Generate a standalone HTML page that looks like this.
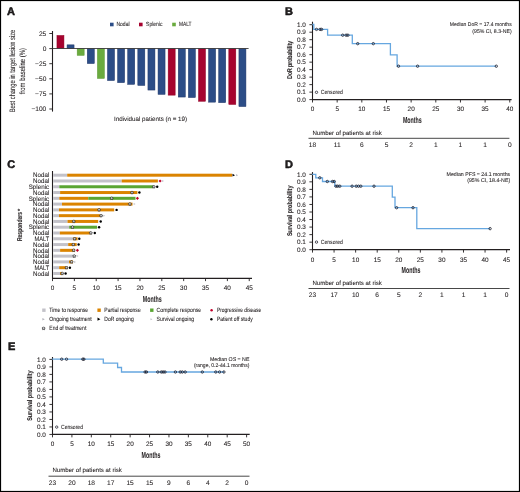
<!DOCTYPE html><html><head><meta charset="utf-8"><style>html,body{margin:0;padding:0;background:#fff;width:520px;height:492px;overflow:hidden}svg{display:block}text{text-rendering:geometricPrecision;font-family:"Liberation Sans",sans-serif;fill:#231f20;stroke:#231f20;stroke-width:0.08px}</style></head><body>
<svg width="520" height="492" viewBox="0 0 520 492">
<defs><filter id="soft" x="0" y="0" width="100%" height="100%" color-interpolation-filters="sRGB"><feGaussianBlur stdDeviation="0.3"/></filter></defs>
<rect x="0" y="0" width="520" height="492" fill="#fff"/>
<g filter="url(#soft)">
<text x="6.9" y="15.4" font-size="11" text-anchor="start" font-weight="bold" fill="#000" style="stroke:#000;stroke-width:0.45px">A</text>
<rect x="110" y="22.7" width="3.6" height="3.6" fill="#2c4d87"/>
<text x="116.4" y="26.4" font-size="6.0" text-anchor="start" textLength="13.2" lengthAdjust="spacingAndGlyphs">Nodal</text>
<rect x="139" y="22.7" width="3.6" height="3.6" fill="#a6032f"/>
<text x="146.1" y="26.4" font-size="6.0" text-anchor="start" textLength="16.4" lengthAdjust="spacingAndGlyphs">Splenic</text>
<rect x="172.2" y="22.7" width="3.6" height="3.6" fill="#6aab3e"/>
<text x="178.9" y="26.4" font-size="6.0" text-anchor="start" textLength="12.6" lengthAdjust="spacingAndGlyphs">MALT</text>
<line x1="52.5" y1="31" x2="52.5" y2="111.6" stroke="#231f20" stroke-width="1.1"/>
<line x1="49.3" y1="33.5" x2="52.5" y2="33.5" stroke="#231f20" stroke-width="0.9"/>
<text x="46.3" y="35.8" font-size="6.6" text-anchor="end">25</text>
<line x1="49.3" y1="48.6" x2="52.5" y2="48.6" stroke="#231f20" stroke-width="0.9"/>
<text x="46.3" y="50.9" font-size="6.6" text-anchor="end">0</text>
<line x1="49.3" y1="63.7" x2="52.5" y2="63.7" stroke="#231f20" stroke-width="0.9"/>
<text x="46.3" y="66" font-size="6.6" text-anchor="end">&#8722;25</text>
<line x1="49.3" y1="78.8" x2="52.5" y2="78.8" stroke="#231f20" stroke-width="0.9"/>
<text x="46.3" y="81.1" font-size="6.6" text-anchor="end">&#8722;50</text>
<line x1="49.3" y1="93.9" x2="52.5" y2="93.9" stroke="#231f20" stroke-width="0.9"/>
<text x="46.3" y="96.2" font-size="6.6" text-anchor="end">&#8722;75</text>
<line x1="49.3" y1="109" x2="52.5" y2="109" stroke="#231f20" stroke-width="0.9"/>
<text x="46.3" y="111.3" font-size="6.6" text-anchor="end">&#8722;100</text>
<rect x="56.95" y="35.45" width="7" height="12.8" fill="#a6032f" stroke="#8f0024" stroke-width="0.5"/>
<rect x="67.06" y="44.85" width="7" height="3.4" fill="#2c4d87" stroke="#1d3567" stroke-width="0.5"/>
<rect x="77.17" y="48.75" width="7" height="6.6" fill="#6aab3e" stroke="#5b9733" stroke-width="0.5"/>
<rect x="87.28" y="48.75" width="7" height="14.8" fill="#2c4d87" stroke="#1d3567" stroke-width="0.5"/>
<rect x="97.39" y="48.75" width="7" height="29.7" fill="#6aab3e" stroke="#5b9733" stroke-width="0.5"/>
<rect x="107.5" y="48.75" width="7" height="31.8" fill="#2c4d87" stroke="#1d3567" stroke-width="0.5"/>
<rect x="117.61" y="48.75" width="7" height="33.9" fill="#2c4d87" stroke="#1d3567" stroke-width="0.5"/>
<rect x="127.72" y="48.75" width="7" height="35.6" fill="#2c4d87" stroke="#1d3567" stroke-width="0.5"/>
<rect x="137.83" y="48.75" width="7" height="36.7" fill="#2c4d87" stroke="#1d3567" stroke-width="0.5"/>
<rect x="147.94" y="48.75" width="7" height="41.3" fill="#2c4d87" stroke="#1d3567" stroke-width="0.5"/>
<rect x="158.05" y="48.75" width="7" height="45.6" fill="#2c4d87" stroke="#1d3567" stroke-width="0.5"/>
<rect x="168.16" y="48.75" width="7" height="46.4" fill="#a6032f" stroke="#8f0024" stroke-width="0.5"/>
<rect x="178.27" y="48.75" width="7" height="48.3" fill="#2c4d87" stroke="#1d3567" stroke-width="0.5"/>
<rect x="188.38" y="48.75" width="7" height="48.8" fill="#2c4d87" stroke="#1d3567" stroke-width="0.5"/>
<rect x="198.49" y="48.75" width="7" height="52.5" fill="#a6032f" stroke="#8f0024" stroke-width="0.5"/>
<rect x="208.6" y="48.75" width="7" height="53.4" fill="#2c4d87" stroke="#1d3567" stroke-width="0.5"/>
<rect x="218.71" y="48.75" width="7" height="53.9" fill="#2c4d87" stroke="#1d3567" stroke-width="0.5"/>
<rect x="228.82" y="48.75" width="7" height="55.7" fill="#a6032f" stroke="#8f0024" stroke-width="0.5"/>
<rect x="238.93" y="48.75" width="7" height="57.8" fill="#2c4d87" stroke="#1d3567" stroke-width="0.5"/>
<line x1="52.5" y1="48.5" x2="248.6" y2="48.5" stroke="#3a3a3a" stroke-width="0.9"/>
<text x="150.6" y="121" font-size="6.3" text-anchor="middle" textLength="73" lengthAdjust="spacingAndGlyphs">Individual patients (n = 19)</text>
<text transform="translate(14.7,71) rotate(-90)" x="0" y="0" font-size="7.8" text-anchor="middle" textLength="82.5" lengthAdjust="spacingAndGlyphs">Best change in target lesion size</text>
<text transform="translate(25.4,71.2) rotate(-90)" x="0" y="0" font-size="7.8" text-anchor="middle" textLength="46.2" lengthAdjust="spacingAndGlyphs">from baseline (%)</text>
<text x="285" y="15.4" font-size="11" text-anchor="start" font-weight="bold" fill="#000" style="stroke:#000;stroke-width:0.45px">B</text>
<line x1="312.5" y1="21.7" x2="312.5" y2="100.2" stroke="#231f20" stroke-width="1.1"/>
<line x1="309.4" y1="24.7" x2="312.5" y2="24.7" stroke="#231f20" stroke-width="0.9"/>
<text x="305.9" y="27" font-size="6.4" text-anchor="end">1.0</text>
<line x1="309.4" y1="32.19" x2="312.5" y2="32.19" stroke="#231f20" stroke-width="0.9"/>
<text x="305.9" y="34.49" font-size="6.4" text-anchor="end">0.9</text>
<line x1="309.4" y1="39.68" x2="312.5" y2="39.68" stroke="#231f20" stroke-width="0.9"/>
<text x="305.9" y="41.98" font-size="6.4" text-anchor="end">0.8</text>
<line x1="309.4" y1="47.17" x2="312.5" y2="47.17" stroke="#231f20" stroke-width="0.9"/>
<text x="305.9" y="49.47" font-size="6.4" text-anchor="end">0.7</text>
<line x1="309.4" y1="54.66" x2="312.5" y2="54.66" stroke="#231f20" stroke-width="0.9"/>
<text x="305.9" y="56.96" font-size="6.4" text-anchor="end">0.6</text>
<line x1="309.4" y1="62.15" x2="312.5" y2="62.15" stroke="#231f20" stroke-width="0.9"/>
<text x="305.9" y="64.45" font-size="6.4" text-anchor="end">0.5</text>
<line x1="309.4" y1="69.64" x2="312.5" y2="69.64" stroke="#231f20" stroke-width="0.9"/>
<text x="305.9" y="71.94" font-size="6.4" text-anchor="end">0.4</text>
<line x1="309.4" y1="77.13" x2="312.5" y2="77.13" stroke="#231f20" stroke-width="0.9"/>
<text x="305.9" y="79.43" font-size="6.4" text-anchor="end">0.3</text>
<line x1="309.4" y1="84.62" x2="312.5" y2="84.62" stroke="#231f20" stroke-width="0.9"/>
<text x="305.9" y="86.92" font-size="6.4" text-anchor="end">0.2</text>
<line x1="309.4" y1="92.11" x2="312.5" y2="92.11" stroke="#231f20" stroke-width="0.9"/>
<text x="305.9" y="94.41" font-size="6.4" text-anchor="end">0.1</text>
<line x1="309.4" y1="99.6" x2="312.5" y2="99.6" stroke="#231f20" stroke-width="0.9"/>
<text x="305.9" y="101.9" font-size="6.4" text-anchor="end">0.0</text>
<line x1="312" y1="99.6" x2="511.6" y2="99.6" stroke="#231f20" stroke-width="1.3"/>
<line x1="312.5" y1="99.6" x2="312.5" y2="102.5" stroke="#231f20" stroke-width="0.9"/>
<text x="312.5" y="111.4" font-size="6.4" text-anchor="middle">0</text>
<line x1="337.16" y1="99.6" x2="337.16" y2="102.5" stroke="#231f20" stroke-width="0.9"/>
<text x="337.16" y="111.4" font-size="6.4" text-anchor="middle">5</text>
<line x1="361.82" y1="99.6" x2="361.82" y2="102.5" stroke="#231f20" stroke-width="0.9"/>
<text x="361.82" y="111.4" font-size="6.4" text-anchor="middle">10</text>
<line x1="386.48" y1="99.6" x2="386.48" y2="102.5" stroke="#231f20" stroke-width="0.9"/>
<text x="386.48" y="111.4" font-size="6.4" text-anchor="middle">15</text>
<line x1="411.14" y1="99.6" x2="411.14" y2="102.5" stroke="#231f20" stroke-width="0.9"/>
<text x="411.14" y="111.4" font-size="6.4" text-anchor="middle">20</text>
<line x1="435.8" y1="99.6" x2="435.8" y2="102.5" stroke="#231f20" stroke-width="0.9"/>
<text x="435.8" y="111.4" font-size="6.4" text-anchor="middle">25</text>
<line x1="460.46" y1="99.6" x2="460.46" y2="102.5" stroke="#231f20" stroke-width="0.9"/>
<text x="460.46" y="111.4" font-size="6.4" text-anchor="middle">30</text>
<line x1="485.12" y1="99.6" x2="485.12" y2="102.5" stroke="#231f20" stroke-width="0.9"/>
<text x="485.12" y="111.4" font-size="6.4" text-anchor="middle">35</text>
<line x1="509.78" y1="99.6" x2="509.78" y2="102.5" stroke="#231f20" stroke-width="0.9"/>
<text x="509.78" y="111.4" font-size="6.4" text-anchor="middle">40</text>
<text transform="translate(291.6,59.8) rotate(-90)" x="0" y="0" font-size="6.9" text-anchor="middle" font-weight="bold" style="stroke-width:0.12px" textLength="38" lengthAdjust="spacingAndGlyphs">DoR probability</text>
<text x="412.3" y="123.2" font-size="8.7" text-anchor="middle" font-weight="bold" textLength="18.8" lengthAdjust="spacingAndGlyphs" style="stroke-width:0.05px">Months</text>
<text x="312.4" y="134.5" font-size="6.1" text-anchor="start" textLength="69.5" lengthAdjust="spacingAndGlyphs">Number of patients at risk</text>
<line x1="308.5" y1="138.3" x2="509.4" y2="138.3" stroke="#333" stroke-width="0.9"/>
<text x="312.5" y="147.3" font-size="6.6" text-anchor="middle">18</text>
<text x="337.16" y="147.3" font-size="6.6" text-anchor="middle">11</text>
<text x="361.82" y="147.3" font-size="6.6" text-anchor="middle">6</text>
<text x="386.48" y="147.3" font-size="6.6" text-anchor="middle">5</text>
<text x="411.14" y="147.3" font-size="6.6" text-anchor="middle">2</text>
<text x="435.8" y="147.3" font-size="6.6" text-anchor="middle">1</text>
<text x="460.46" y="147.3" font-size="6.6" text-anchor="middle">1</text>
<text x="485.12" y="147.3" font-size="6.6" text-anchor="middle">1</text>
<text x="509.78" y="147.3" font-size="6.6" text-anchor="middle">0</text>
<text x="511.7" y="26.3" font-size="5.5" text-anchor="end" textLength="62" lengthAdjust="spacingAndGlyphs">Median DoR = 17.4 months</text>
<text x="511.7" y="32.6" font-size="5.5" text-anchor="end" textLength="39.4" lengthAdjust="spacingAndGlyphs">(95% CI, 8.3-NE)</text>
<circle cx="316.5" cy="92.3" r="1.2" fill="none" stroke="#1c1c28" stroke-width="0.75"/>
<text x="320.8" y="94.4" font-size="6.0" text-anchor="start" textLength="22" lengthAdjust="spacingAndGlyphs">Censored</text>
<path d="M312.3 24.5H313.8V29.4H327.6V35.2H352.3V43.65H390.4V54.8H397.1V66.2H496.3" fill="none" stroke="#66a7e0" stroke-width="1.3" stroke-linejoin="miter"/>
<circle cx="316.5" cy="29.4" r="1.2" fill="none" stroke="#1c1c28" stroke-width="0.8"/>
<circle cx="320.1" cy="29.4" r="1.2" fill="none" stroke="#1c1c28" stroke-width="0.8"/>
<circle cx="321.6" cy="29.4" r="1.2" fill="none" stroke="#1c1c28" stroke-width="0.8"/>
<circle cx="342.7" cy="35.2" r="1.2" fill="none" stroke="#1c1c28" stroke-width="0.8"/>
<circle cx="346.1" cy="35.2" r="1.2" fill="none" stroke="#1c1c28" stroke-width="0.8"/>
<circle cx="347.9" cy="35.2" r="1.2" fill="none" stroke="#1c1c28" stroke-width="0.8"/>
<circle cx="357.7" cy="43.65" r="1.2" fill="none" stroke="#1c1c28" stroke-width="0.8"/>
<circle cx="373.3" cy="43.65" r="1.2" fill="none" stroke="#1c1c28" stroke-width="0.8"/>
<circle cx="398.5" cy="66.2" r="1.2" fill="none" stroke="#1c1c28" stroke-width="0.8"/>
<circle cx="417.6" cy="66.2" r="1.2" fill="none" stroke="#1c1c28" stroke-width="0.8"/>
<circle cx="496.3" cy="66.2" r="1.2" fill="none" stroke="#1c1c28" stroke-width="0.8"/>
<text x="7.3" y="167.7" font-size="11" text-anchor="start" font-weight="bold" fill="#000" style="stroke:#000;stroke-width:0.45px">C</text>
<line x1="52.5" y1="171" x2="52.5" y2="278.9" stroke="#231f20" stroke-width="1.1"/>
<line x1="52" y1="278.3" x2="252" y2="278.3" stroke="#231f20" stroke-width="1.3"/>
<line x1="52.5" y1="278.1" x2="52.5" y2="281.1" stroke="#231f20" stroke-width="0.9"/>
<text x="52.5" y="290.2" font-size="6.4" text-anchor="middle">0</text>
<line x1="74.36" y1="278.1" x2="74.36" y2="281.1" stroke="#231f20" stroke-width="0.9"/>
<text x="74.36" y="290.2" font-size="6.4" text-anchor="middle">5</text>
<line x1="96.22" y1="278.1" x2="96.22" y2="281.1" stroke="#231f20" stroke-width="0.9"/>
<text x="96.22" y="290.2" font-size="6.4" text-anchor="middle">10</text>
<line x1="118.08" y1="278.1" x2="118.08" y2="281.1" stroke="#231f20" stroke-width="0.9"/>
<text x="118.08" y="290.2" font-size="6.4" text-anchor="middle">15</text>
<line x1="139.94" y1="278.1" x2="139.94" y2="281.1" stroke="#231f20" stroke-width="0.9"/>
<text x="139.94" y="290.2" font-size="6.4" text-anchor="middle">20</text>
<line x1="161.8" y1="278.1" x2="161.8" y2="281.1" stroke="#231f20" stroke-width="0.9"/>
<text x="161.8" y="290.2" font-size="6.4" text-anchor="middle">25</text>
<line x1="183.66" y1="278.1" x2="183.66" y2="281.1" stroke="#231f20" stroke-width="0.9"/>
<text x="183.66" y="290.2" font-size="6.4" text-anchor="middle">30</text>
<line x1="205.52" y1="278.1" x2="205.52" y2="281.1" stroke="#231f20" stroke-width="0.9"/>
<text x="205.52" y="290.2" font-size="6.4" text-anchor="middle">35</text>
<line x1="227.38" y1="278.1" x2="227.38" y2="281.1" stroke="#231f20" stroke-width="0.9"/>
<text x="227.38" y="290.2" font-size="6.4" text-anchor="middle">40</text>
<line x1="249.24" y1="278.1" x2="249.24" y2="281.1" stroke="#231f20" stroke-width="0.9"/>
<text x="249.24" y="290.2" font-size="6.4" text-anchor="middle">45</text>
<text x="152.2" y="302.1" font-size="8.7" text-anchor="middle" font-weight="bold" textLength="18.8" lengthAdjust="spacingAndGlyphs" style="stroke-width:0.05px">Months</text>
<text transform="translate(21.9,226.5) rotate(-90)" x="0" y="0" font-size="7.0" text-anchor="middle" font-weight="bold" style="stroke-width:0.12px" textLength="29.2" lengthAdjust="spacingAndGlyphs">Responders</text>
<text x="0" y="0" font-size="6.4" text-anchor="start" font-weight="bold" transform="translate(21.6,211.2) rotate(-90)" text-anchor="middle">*</text>
<text x="49.2" y="177.4" font-size="6.4" text-anchor="end" textLength="16.1" lengthAdjust="spacingAndGlyphs">Nodal</text>
<rect x="53.2" y="173.7" width="14" height="3" fill="#c3c2c9"/>
<rect x="67.2" y="173.7" width="164.9" height="3" fill="#db8400"/>
<path d="M232.5 173.8L235 175.2L232.5 176.6Z" fill="#000"/>
<path d="M236.1 174.1L238.1 175.2L236.1 176.3Z" fill="#b8b8c0"/>
<text x="49.2" y="183.18" font-size="6.4" text-anchor="end" textLength="16.1" lengthAdjust="spacingAndGlyphs">Nodal</text>
<rect x="53.2" y="179.48" width="68.5" height="3" fill="#c3c2c9"/>
<rect x="121.7" y="179.48" width="36.2" height="3" fill="#db8400"/>
<path d="M160.1 179.38L161.7 180.98L160.1 182.58L158.5 180.98Z" fill="#c0002a"/>
<path d="M162.1 179.98L164 180.98L162.1 181.98Z" fill="#bcbcc4"/>
<text x="49.2" y="188.96" font-size="6.4" text-anchor="end" textLength="20.5" lengthAdjust="spacingAndGlyphs">Splenic</text>
<rect x="53.2" y="185.26" width="6.1" height="3" fill="#c3c2c9"/>
<rect x="59.3" y="185.26" width="93.7" height="3" fill="#5aa532"/>
<path d="M153.8 185.16L154.45 185.87L155.32 186.27L154.85 187.1L154.74 188.05L153.8 187.86L152.86 188.05L152.75 187.1L152.28 186.27L153.15 185.87Z" fill="#c8c8cc" stroke="#2a2a2a" stroke-width="0.7" stroke-linejoin="round"/>
<circle cx="157.2" cy="186.76" r="1.2" fill="#000"/>
<text x="49.2" y="194.74" font-size="6.4" text-anchor="end" textLength="16.1" lengthAdjust="spacingAndGlyphs">Nodal</text>
<rect x="53.2" y="191.04" width="6.9" height="3" fill="#c3c2c9"/>
<rect x="60.1" y="191.04" width="77.3" height="3" fill="#db8400"/>
<path d="M132 190.94L132.65 191.65L133.52 192.05L133.05 192.88L132.94 193.83L132 193.64L131.06 193.83L130.95 192.88L130.48 192.05L131.35 191.65Z" fill="#c8c8cc" stroke="#2a2a2a" stroke-width="0.7" stroke-linejoin="round"/>
<circle cx="139.4" cy="192.54" r="1.2" fill="#000"/>
<text x="49.2" y="200.52" font-size="6.4" text-anchor="end" textLength="20.5" lengthAdjust="spacingAndGlyphs">Splenic</text>
<rect x="53.2" y="196.82" width="6.1" height="3" fill="#c3c2c9"/>
<rect x="59.3" y="196.82" width="29" height="3" fill="#db8400"/>
<rect x="88.3" y="196.82" width="47.2" height="3" fill="#5aa532"/>
<path d="M111.7 196.72L112.35 197.43L113.22 197.83L112.75 198.66L112.64 199.61L111.7 199.42L110.76 199.61L110.65 198.66L110.18 197.83L111.05 197.43Z" fill="#c8c8cc" stroke="#2a2a2a" stroke-width="0.7" stroke-linejoin="round"/>
<path d="M137.4 196.72L139 198.32L137.4 199.92L135.8 198.32Z" fill="#c0002a"/>
<text x="49.2" y="206.3" font-size="6.4" text-anchor="end" textLength="16.1" lengthAdjust="spacingAndGlyphs">Nodal</text>
<rect x="53.2" y="202.6" width="8.8" height="3" fill="#c3c2c9"/>
<rect x="62" y="202.6" width="70.5" height="3" fill="#db8400"/>
<path d="M129.9 202.5L130.55 203.21L131.42 203.61L130.95 204.44L130.84 205.39L129.9 205.2L128.96 205.39L128.85 204.44L128.38 203.61L129.25 203.21Z" fill="#c8c8cc" stroke="#2a2a2a" stroke-width="0.7" stroke-linejoin="round"/>
<path d="M133.7 203.1L135.6 204.1L133.7 205.1Z" fill="#bcbcc4"/>
<text x="49.2" y="212.08" font-size="6.4" text-anchor="end" textLength="16.1" lengthAdjust="spacingAndGlyphs">Nodal</text>
<rect x="53.2" y="208.38" width="5.8" height="3" fill="#c3c2c9"/>
<rect x="59" y="208.38" width="55.2" height="3" fill="#db8400"/>
<path d="M99.1 208.28L99.75 208.99L100.62 209.39L100.15 210.22L100.04 211.17L99.1 210.98L98.16 211.17L98.05 210.22L97.58 209.39L98.45 208.99Z" fill="#c8c8cc" stroke="#2a2a2a" stroke-width="0.7" stroke-linejoin="round"/>
<circle cx="116.6" cy="209.88" r="1.2" fill="#000"/>
<text x="49.2" y="217.86" font-size="6.4" text-anchor="end" textLength="16.1" lengthAdjust="spacingAndGlyphs">Nodal</text>
<rect x="53.2" y="214.16" width="5.8" height="3" fill="#c3c2c9"/>
<rect x="59" y="214.16" width="41.5" height="3" fill="#db8400"/>
<path d="M101.1 214.06L101.75 214.77L102.62 215.17L102.15 216L102.04 216.95L101.1 216.76L100.16 216.95L100.05 216L99.58 215.17L100.45 214.77Z" fill="#c8c8cc" stroke="#2a2a2a" stroke-width="0.7" stroke-linejoin="round"/>
<path d="M103.3 214.66L105.2 215.66L103.3 216.66Z" fill="#bcbcc4"/>
<text x="49.2" y="223.64" font-size="6.4" text-anchor="end" textLength="16.1" lengthAdjust="spacingAndGlyphs">Nodal</text>
<rect x="53.2" y="219.94" width="14.3" height="3" fill="#c3c2c9"/>
<rect x="67.5" y="219.94" width="30.7" height="3" fill="#db8400"/>
<path d="M73.8 219.84L74.45 220.55L75.32 220.95L74.85 221.78L74.74 222.73L73.8 222.54L72.86 222.73L72.75 221.78L72.28 220.95L73.15 220.55Z" fill="#c8c8cc" stroke="#2a2a2a" stroke-width="0.7" stroke-linejoin="round"/>
<circle cx="100.7" cy="221.44" r="1.2" fill="#000"/>
<text x="49.2" y="229.42" font-size="6.4" text-anchor="end" textLength="20.5" lengthAdjust="spacingAndGlyphs">Splenic</text>
<rect x="53.2" y="225.72" width="16" height="3" fill="#c3c2c9"/>
<rect x="69.2" y="225.72" width="27.9" height="3" fill="#5aa532"/>
<path d="M72.5 225.62L73.15 226.33L74.02 226.73L73.55 227.56L73.44 228.51L72.5 228.32L71.56 228.51L71.45 227.56L70.98 226.73L71.85 226.33Z" fill="#c8c8cc" stroke="#2a2a2a" stroke-width="0.7" stroke-linejoin="round"/>
<circle cx="99.1" cy="227.22" r="1.2" fill="#000"/>
<text x="49.2" y="235.2" font-size="6.4" text-anchor="end" textLength="16.1" lengthAdjust="spacingAndGlyphs">Nodal</text>
<rect x="53.2" y="231.5" width="6.6" height="3" fill="#c3c2c9"/>
<rect x="59.8" y="231.5" width="30.6" height="3" fill="#db8400"/>
<path d="M90.8 231.4L91.45 232.11L92.32 232.51L91.85 233.34L91.74 234.29L90.8 234.1L89.86 234.29L89.75 233.34L89.28 232.51L90.15 232.11Z" fill="#c8c8cc" stroke="#2a2a2a" stroke-width="0.7" stroke-linejoin="round"/>
<circle cx="94.8" cy="233" r="1.2" fill="#000"/>
<text x="49.2" y="240.98" font-size="6.4" text-anchor="end" textLength="14.6" lengthAdjust="spacingAndGlyphs">MALT</text>
<rect x="53.2" y="237.28" width="20" height="3" fill="#c3c2c9"/>
<rect x="73.2" y="237.28" width="4.4" height="3" fill="#db8400"/>
<path d="M74.6 237.18L75.25 237.89L76.12 238.29L75.65 239.12L75.54 240.07L74.6 239.88L73.66 240.07L73.55 239.12L73.08 238.29L73.95 237.89Z" fill="#c8c8cc" stroke="#2a2a2a" stroke-width="0.7" stroke-linejoin="round"/>
<circle cx="79.3" cy="238.78" r="1.2" fill="#000"/>
<text x="49.2" y="246.76" font-size="6.4" text-anchor="end" textLength="16.1" lengthAdjust="spacingAndGlyphs">Nodal</text>
<rect x="53.2" y="243.06" width="15" height="3" fill="#c3c2c9"/>
<rect x="68.2" y="243.06" width="8.5" height="3" fill="#db8400"/>
<path d="M73.3 242.96L73.95 243.67L74.82 244.07L74.35 244.9L74.24 245.85L73.3 245.66L72.36 245.85L72.25 244.9L71.78 244.07L72.65 243.67Z" fill="#c8c8cc" stroke="#2a2a2a" stroke-width="0.7" stroke-linejoin="round"/>
<circle cx="78.6" cy="244.56" r="1.2" fill="#000"/>
<text x="49.2" y="252.54" font-size="6.4" text-anchor="end" textLength="16.1" lengthAdjust="spacingAndGlyphs">Nodal</text>
<rect x="53.2" y="248.84" width="6.9" height="3" fill="#c3c2c9"/>
<rect x="60.1" y="248.84" width="14.9" height="3" fill="#db8400"/>
<path d="M73.7 248.74L74.35 249.45L75.22 249.85L74.75 250.68L74.64 251.63L73.7 251.44L72.76 251.63L72.65 250.68L72.18 249.85L73.05 249.45Z" fill="#c8c8cc" stroke="#2a2a2a" stroke-width="0.7" stroke-linejoin="round"/>
<path d="M77.4 248.74L79 250.34L77.4 251.94L75.8 250.34Z" fill="#c0002a"/>
<text x="49.2" y="258.32" font-size="6.4" text-anchor="end" textLength="16.1" lengthAdjust="spacingAndGlyphs">Nodal</text>
<rect x="53.2" y="254.62" width="20.5" height="3" fill="#c3c2c9"/>
<path d="M74.3 254.52L74.95 255.23L75.82 255.63L75.35 256.46L75.24 257.41L74.3 257.22L73.36 257.41L73.25 256.46L72.78 255.63L73.65 255.23Z" fill="#c8c8cc" stroke="#2a2a2a" stroke-width="0.7" stroke-linejoin="round"/>
<path d="M76.7 255.12L78.6 256.12L76.7 257.12Z" fill="#bcbcc4"/>
<text x="49.2" y="264.1" font-size="6.4" text-anchor="end" textLength="16.1" lengthAdjust="spacingAndGlyphs">Nodal</text>
<rect x="53.2" y="260.4" width="15.8" height="3" fill="#c3c2c9"/>
<rect x="69" y="260.4" width="3.9" height="3" fill="#db8400"/>
<path d="M71.6 260.3L72.25 261.01L73.12 261.41L72.65 262.24L72.54 263.19L71.6 263L70.66 263.19L70.55 262.24L70.08 261.41L70.95 261.01Z" fill="#c8c8cc" stroke="#2a2a2a" stroke-width="0.7" stroke-linejoin="round"/>
<path d="M74.1 260.9L76 261.9L74.1 262.9Z" fill="#bcbcc4"/>
<text x="49.2" y="269.88" font-size="6.4" text-anchor="end" textLength="14.6" lengthAdjust="spacingAndGlyphs">MALT</text>
<rect x="53.2" y="266.18" width="6" height="3" fill="#c3c2c9"/>
<rect x="59.2" y="266.18" width="8.2" height="3" fill="#db8400"/>
<path d="M66.5 266.08L67.15 266.79L68.02 267.19L67.55 268.02L67.44 268.97L66.5 268.78L65.56 268.97L65.45 268.02L64.98 267.19L65.85 266.79Z" fill="#c8c8cc" stroke="#2a2a2a" stroke-width="0.7" stroke-linejoin="round"/>
<circle cx="69.9" cy="267.68" r="1.2" fill="#000"/>
<text x="49.2" y="275.66" font-size="6.4" text-anchor="end" textLength="16.1" lengthAdjust="spacingAndGlyphs">Nodal</text>
<rect x="53.2" y="271.96" width="6.9" height="3" fill="#c3c2c9"/>
<rect x="60.1" y="271.96" width="2.6" height="3" fill="#db8400"/>
<path d="M62.2 271.86L62.85 272.57L63.72 272.97L63.25 273.8L63.14 274.75L62.2 274.56L61.26 274.75L61.15 273.8L60.68 272.97L61.55 272.57Z" fill="#c8c8cc" stroke="#2a2a2a" stroke-width="0.7" stroke-linejoin="round"/>
<circle cx="65.6" cy="273.46" r="1.2" fill="#000"/>
<rect x="42.2" y="308.5" width="3.4" height="3.4" fill="#c3c2c9"/>
<text x="49.3" y="312.3" font-size="6.2" text-anchor="start" textLength="38.8" lengthAdjust="spacingAndGlyphs">Time to response</text>
<rect x="97.4" y="308.5" width="3.4" height="3.4" fill="#db8400"/>
<text x="104.3" y="312.3" font-size="6.2" text-anchor="start" textLength="36.4" lengthAdjust="spacingAndGlyphs">Partial response</text>
<rect x="150.1" y="308.5" width="3.4" height="3.4" fill="#5aa532"/>
<text x="156.6" y="312.3" font-size="6.2" text-anchor="start" textLength="44.6" lengthAdjust="spacingAndGlyphs">Complete response</text>
<circle cx="211.6" cy="310.2" r="1.2" fill="#c0002a"/>
<text x="216.9" y="312.3" font-size="6.2" text-anchor="start" textLength="44.4" lengthAdjust="spacingAndGlyphs">Progressive disease</text>
<path d="M42.4 317.9L44.8 319.2L42.4 320.5Z" fill="#b4b4bc"/>
<text x="49.3" y="321.3" font-size="6.2" text-anchor="start" textLength="42.5" lengthAdjust="spacingAndGlyphs">Ongoing treatment</text>
<path d="M97.5 317.6L100.4 319.2L97.5 320.8Z" fill="#000"/>
<text x="104.3" y="321.3" font-size="6.2" text-anchor="start" textLength="29.4" lengthAdjust="spacingAndGlyphs">DoR ongoing</text>
<path d="M150.5 318.2L152.4 319.2L150.5 320.2Z" fill="#bcbcc4"/>
<text x="156.6" y="321.3" font-size="6.2" text-anchor="start" textLength="37.5" lengthAdjust="spacingAndGlyphs">Survival ongoing</text>
<circle cx="211.4" cy="319.2" r="1.2" fill="#000"/>
<text x="216.9" y="321.3" font-size="6.2" text-anchor="start" textLength="35.8" lengthAdjust="spacingAndGlyphs">Patient off study</text>
<path d="M43.6 326.8L44.25 327.51L45.12 327.91L44.65 328.74L44.54 329.69L43.6 329.5L42.66 329.69L42.55 328.74L42.08 327.91L42.95 327.51Z" fill="#c8c8cc" stroke="#2a2a2a" stroke-width="0.7" stroke-linejoin="round"/>
<text x="49.3" y="330.3" font-size="6.2" text-anchor="start" textLength="37" lengthAdjust="spacingAndGlyphs">End of treatment</text>
<text x="285" y="167.7" font-size="11" text-anchor="start" font-weight="bold" fill="#000" style="stroke:#000;stroke-width:0.45px">D</text>
<line x1="312.5" y1="172.1" x2="312.5" y2="250.3" stroke="#231f20" stroke-width="1.1"/>
<line x1="309.4" y1="174.3" x2="312.5" y2="174.3" stroke="#231f20" stroke-width="0.9"/>
<text x="305.9" y="176.6" font-size="6.4" text-anchor="end">1.0</text>
<line x1="309.4" y1="181.84" x2="312.5" y2="181.84" stroke="#231f20" stroke-width="0.9"/>
<text x="305.9" y="184.14" font-size="6.4" text-anchor="end">0.9</text>
<line x1="309.4" y1="189.38" x2="312.5" y2="189.38" stroke="#231f20" stroke-width="0.9"/>
<text x="305.9" y="191.68" font-size="6.4" text-anchor="end">0.8</text>
<line x1="309.4" y1="196.92" x2="312.5" y2="196.92" stroke="#231f20" stroke-width="0.9"/>
<text x="305.9" y="199.22" font-size="6.4" text-anchor="end">0.7</text>
<line x1="309.4" y1="204.46" x2="312.5" y2="204.46" stroke="#231f20" stroke-width="0.9"/>
<text x="305.9" y="206.76" font-size="6.4" text-anchor="end">0.6</text>
<line x1="309.4" y1="212" x2="312.5" y2="212" stroke="#231f20" stroke-width="0.9"/>
<text x="305.9" y="214.3" font-size="6.4" text-anchor="end">0.5</text>
<line x1="309.4" y1="219.54" x2="312.5" y2="219.54" stroke="#231f20" stroke-width="0.9"/>
<text x="305.9" y="221.84" font-size="6.4" text-anchor="end">0.4</text>
<line x1="309.4" y1="227.08" x2="312.5" y2="227.08" stroke="#231f20" stroke-width="0.9"/>
<text x="305.9" y="229.38" font-size="6.4" text-anchor="end">0.3</text>
<line x1="309.4" y1="234.62" x2="312.5" y2="234.62" stroke="#231f20" stroke-width="0.9"/>
<text x="305.9" y="236.92" font-size="6.4" text-anchor="end">0.2</text>
<line x1="309.4" y1="242.16" x2="312.5" y2="242.16" stroke="#231f20" stroke-width="0.9"/>
<text x="305.9" y="244.46" font-size="6.4" text-anchor="end">0.1</text>
<line x1="309.4" y1="249.7" x2="312.5" y2="249.7" stroke="#231f20" stroke-width="0.9"/>
<text x="305.9" y="252" font-size="6.4" text-anchor="end">0.0</text>
<line x1="312" y1="249.7" x2="510" y2="249.7" stroke="#231f20" stroke-width="1.3"/>
<line x1="312.5" y1="249.7" x2="312.5" y2="252.6" stroke="#231f20" stroke-width="0.9"/>
<text x="312.5" y="261.5" font-size="6.4" text-anchor="middle">0</text>
<line x1="334.07" y1="249.7" x2="334.07" y2="252.6" stroke="#231f20" stroke-width="0.9"/>
<text x="334.07" y="261.5" font-size="6.4" text-anchor="middle">5</text>
<line x1="355.64" y1="249.7" x2="355.64" y2="252.6" stroke="#231f20" stroke-width="0.9"/>
<text x="355.64" y="261.5" font-size="6.4" text-anchor="middle">10</text>
<line x1="377.21" y1="249.7" x2="377.21" y2="252.6" stroke="#231f20" stroke-width="0.9"/>
<text x="377.21" y="261.5" font-size="6.4" text-anchor="middle">15</text>
<line x1="398.78" y1="249.7" x2="398.78" y2="252.6" stroke="#231f20" stroke-width="0.9"/>
<text x="398.78" y="261.5" font-size="6.4" text-anchor="middle">20</text>
<line x1="420.35" y1="249.7" x2="420.35" y2="252.6" stroke="#231f20" stroke-width="0.9"/>
<text x="420.35" y="261.5" font-size="6.4" text-anchor="middle">25</text>
<line x1="441.92" y1="249.7" x2="441.92" y2="252.6" stroke="#231f20" stroke-width="0.9"/>
<text x="441.92" y="261.5" font-size="6.4" text-anchor="middle">30</text>
<line x1="463.49" y1="249.7" x2="463.49" y2="252.6" stroke="#231f20" stroke-width="0.9"/>
<text x="463.49" y="261.5" font-size="6.4" text-anchor="middle">35</text>
<line x1="485.06" y1="249.7" x2="485.06" y2="252.6" stroke="#231f20" stroke-width="0.9"/>
<text x="485.06" y="261.5" font-size="6.4" text-anchor="middle">40</text>
<line x1="506.63" y1="249.7" x2="506.63" y2="252.6" stroke="#231f20" stroke-width="0.9"/>
<text x="506.63" y="261.5" font-size="6.4" text-anchor="middle">45</text>
<text transform="translate(291.7,210.8) rotate(-90)" x="0" y="0" font-size="6.9" text-anchor="middle" font-weight="bold" style="stroke-width:0.12px" textLength="50.5" lengthAdjust="spacingAndGlyphs">Survival probability</text>
<text x="411" y="273.3" font-size="8.7" text-anchor="middle" font-weight="bold" textLength="18.8" lengthAdjust="spacingAndGlyphs" style="stroke-width:0.05px">Months</text>
<text x="312.4" y="284.5" font-size="6.1" text-anchor="start" textLength="69.5" lengthAdjust="spacingAndGlyphs">Number of patients at risk</text>
<line x1="308.5" y1="288.5" x2="509.5" y2="288.5" stroke="#333" stroke-width="0.9"/>
<text x="312.5" y="297.2" font-size="6.6" text-anchor="middle">23</text>
<text x="334.07" y="297.2" font-size="6.6" text-anchor="middle">17</text>
<text x="355.64" y="297.2" font-size="6.6" text-anchor="middle">10</text>
<text x="377.21" y="297.2" font-size="6.6" text-anchor="middle">6</text>
<text x="398.78" y="297.2" font-size="6.6" text-anchor="middle">5</text>
<text x="420.35" y="297.2" font-size="6.6" text-anchor="middle">2</text>
<text x="441.92" y="297.2" font-size="6.6" text-anchor="middle">1</text>
<text x="463.49" y="297.2" font-size="6.6" text-anchor="middle">1</text>
<text x="485.06" y="297.2" font-size="6.6" text-anchor="middle">1</text>
<text x="506.63" y="297.2" font-size="6.6" text-anchor="middle">0</text>
<text x="510.2" y="176.1" font-size="5.5" text-anchor="end" textLength="63.6" lengthAdjust="spacingAndGlyphs">Median PFS = 24.1 months</text>
<text x="510.2" y="182.3" font-size="5.5" text-anchor="end" textLength="43" lengthAdjust="spacingAndGlyphs">(95% CI, 18.4-NE)</text>
<circle cx="316.5" cy="242.1" r="1.2" fill="none" stroke="#1c1c28" stroke-width="0.75"/>
<text x="320.8" y="244.2" font-size="6.0" text-anchor="start" textLength="22" lengthAdjust="spacingAndGlyphs">Censored</text>
<path d="M312.2 174.4H315.8V177.8H322.5V181.5H334.8V186.2H392.3V197.2H395V207.7H416.8V228.65H490.1" fill="none" stroke="#66a7e0" stroke-width="1.3" stroke-linejoin="miter"/>
<circle cx="319.8" cy="177.8" r="1.2" fill="none" stroke="#1c1c28" stroke-width="0.8"/>
<circle cx="327.3" cy="181.5" r="1.2" fill="none" stroke="#1c1c28" stroke-width="0.8"/>
<circle cx="332.5" cy="181.5" r="1.2" fill="none" stroke="#1c1c28" stroke-width="0.8"/>
<circle cx="334.2" cy="181.5" r="1.2" fill="none" stroke="#1c1c28" stroke-width="0.8"/>
<circle cx="336" cy="186.2" r="1.2" fill="none" stroke="#1c1c28" stroke-width="0.8"/>
<circle cx="337.7" cy="186.2" r="1.2" fill="none" stroke="#1c1c28" stroke-width="0.8"/>
<circle cx="339.8" cy="186.2" r="1.2" fill="none" stroke="#1c1c28" stroke-width="0.8"/>
<circle cx="352.1" cy="186.2" r="1.2" fill="none" stroke="#1c1c28" stroke-width="0.8"/>
<circle cx="356.2" cy="186.2" r="1.2" fill="none" stroke="#1c1c28" stroke-width="0.8"/>
<circle cx="358.5" cy="186.2" r="1.2" fill="none" stroke="#1c1c28" stroke-width="0.8"/>
<circle cx="360.8" cy="186.2" r="1.2" fill="none" stroke="#1c1c28" stroke-width="0.8"/>
<circle cx="374" cy="186.2" r="1.2" fill="none" stroke="#1c1c28" stroke-width="0.8"/>
<circle cx="396.6" cy="207.7" r="1.2" fill="none" stroke="#1c1c28" stroke-width="0.8"/>
<circle cx="413" cy="207.7" r="1.2" fill="none" stroke="#1c1c28" stroke-width="0.8"/>
<circle cx="490.1" cy="228.65" r="1.2" fill="none" stroke="#1c1c28" stroke-width="0.8"/>
<text x="7.9" y="349.8" font-size="11" text-anchor="start" font-weight="bold" fill="#000" style="stroke:#000;stroke-width:0.45px">E</text>
<line x1="52.5" y1="357" x2="52.5" y2="435.05" stroke="#231f20" stroke-width="1.1"/>
<line x1="49.4" y1="359.4" x2="52.5" y2="359.4" stroke="#231f20" stroke-width="0.9"/>
<text x="45.9" y="361.7" font-size="6.4" text-anchor="end">1.0</text>
<line x1="49.4" y1="366.9" x2="52.5" y2="366.9" stroke="#231f20" stroke-width="0.9"/>
<text x="45.9" y="369.2" font-size="6.4" text-anchor="end">0.9</text>
<line x1="49.4" y1="374.41" x2="52.5" y2="374.41" stroke="#231f20" stroke-width="0.9"/>
<text x="45.9" y="376.71" font-size="6.4" text-anchor="end">0.8</text>
<line x1="49.4" y1="381.91" x2="52.5" y2="381.91" stroke="#231f20" stroke-width="0.9"/>
<text x="45.9" y="384.21" font-size="6.4" text-anchor="end">0.7</text>
<line x1="49.4" y1="389.42" x2="52.5" y2="389.42" stroke="#231f20" stroke-width="0.9"/>
<text x="45.9" y="391.72" font-size="6.4" text-anchor="end">0.6</text>
<line x1="49.4" y1="396.92" x2="52.5" y2="396.92" stroke="#231f20" stroke-width="0.9"/>
<text x="45.9" y="399.22" font-size="6.4" text-anchor="end">0.5</text>
<line x1="49.4" y1="404.43" x2="52.5" y2="404.43" stroke="#231f20" stroke-width="0.9"/>
<text x="45.9" y="406.73" font-size="6.4" text-anchor="end">0.4</text>
<line x1="49.4" y1="411.94" x2="52.5" y2="411.94" stroke="#231f20" stroke-width="0.9"/>
<text x="45.9" y="414.24" font-size="6.4" text-anchor="end">0.3</text>
<line x1="49.4" y1="419.44" x2="52.5" y2="419.44" stroke="#231f20" stroke-width="0.9"/>
<text x="45.9" y="421.74" font-size="6.4" text-anchor="end">0.2</text>
<line x1="49.4" y1="426.94" x2="52.5" y2="426.94" stroke="#231f20" stroke-width="0.9"/>
<text x="45.9" y="429.25" font-size="6.4" text-anchor="end">0.1</text>
<line x1="49.4" y1="434.45" x2="52.5" y2="434.45" stroke="#231f20" stroke-width="0.9"/>
<text x="45.9" y="436.75" font-size="6.4" text-anchor="end">0.0</text>
<line x1="52" y1="434.45" x2="249.7" y2="434.45" stroke="#231f20" stroke-width="1.3"/>
<line x1="52.5" y1="434.45" x2="52.5" y2="437.35" stroke="#231f20" stroke-width="0.9"/>
<text x="52.5" y="446.25" font-size="6.4" text-anchor="middle">0</text>
<line x1="71.91" y1="434.45" x2="71.91" y2="437.35" stroke="#231f20" stroke-width="0.9"/>
<text x="71.91" y="446.25" font-size="6.4" text-anchor="middle">5</text>
<line x1="91.32" y1="434.45" x2="91.32" y2="437.35" stroke="#231f20" stroke-width="0.9"/>
<text x="91.32" y="446.25" font-size="6.4" text-anchor="middle">10</text>
<line x1="110.73" y1="434.45" x2="110.73" y2="437.35" stroke="#231f20" stroke-width="0.9"/>
<text x="110.73" y="446.25" font-size="6.4" text-anchor="middle">15</text>
<line x1="130.14" y1="434.45" x2="130.14" y2="437.35" stroke="#231f20" stroke-width="0.9"/>
<text x="130.14" y="446.25" font-size="6.4" text-anchor="middle">20</text>
<line x1="149.55" y1="434.45" x2="149.55" y2="437.35" stroke="#231f20" stroke-width="0.9"/>
<text x="149.55" y="446.25" font-size="6.4" text-anchor="middle">25</text>
<line x1="168.96" y1="434.45" x2="168.96" y2="437.35" stroke="#231f20" stroke-width="0.9"/>
<text x="168.96" y="446.25" font-size="6.4" text-anchor="middle">30</text>
<line x1="188.37" y1="434.45" x2="188.37" y2="437.35" stroke="#231f20" stroke-width="0.9"/>
<text x="188.37" y="446.25" font-size="6.4" text-anchor="middle">35</text>
<line x1="207.78" y1="434.45" x2="207.78" y2="437.35" stroke="#231f20" stroke-width="0.9"/>
<text x="207.78" y="446.25" font-size="6.4" text-anchor="middle">40</text>
<line x1="227.19" y1="434.45" x2="227.19" y2="437.35" stroke="#231f20" stroke-width="0.9"/>
<text x="227.19" y="446.25" font-size="6.4" text-anchor="middle">45</text>
<line x1="246.6" y1="434.45" x2="246.6" y2="437.35" stroke="#231f20" stroke-width="0.9"/>
<text x="246.6" y="446.25" font-size="6.4" text-anchor="middle">50</text>
<text transform="translate(31.7,395.6) rotate(-90)" x="0" y="0" font-size="6.9" text-anchor="middle" font-weight="bold" style="stroke-width:0.12px" textLength="50.5" lengthAdjust="spacingAndGlyphs">Survival probability</text>
<text x="151" y="458.4" font-size="8.7" text-anchor="middle" font-weight="bold" textLength="18.8" lengthAdjust="spacingAndGlyphs" style="stroke-width:0.05px">Months</text>
<text x="52.4" y="471.5" font-size="6.1" text-anchor="start" textLength="69.5" lengthAdjust="spacingAndGlyphs">Number of patients at risk</text>
<line x1="48.5" y1="476.2" x2="249.5" y2="476.2" stroke="#333" stroke-width="0.9"/>
<text x="52.5" y="484.9" font-size="6.6" text-anchor="middle">23</text>
<text x="71.91" y="484.9" font-size="6.6" text-anchor="middle">20</text>
<text x="91.32" y="484.9" font-size="6.6" text-anchor="middle">18</text>
<text x="110.73" y="484.9" font-size="6.6" text-anchor="middle">17</text>
<text x="130.14" y="484.9" font-size="6.6" text-anchor="middle">15</text>
<text x="149.55" y="484.9" font-size="6.6" text-anchor="middle">15</text>
<text x="168.96" y="484.9" font-size="6.6" text-anchor="middle">9</text>
<text x="188.37" y="484.9" font-size="6.6" text-anchor="middle">6</text>
<text x="207.78" y="484.9" font-size="6.6" text-anchor="middle">4</text>
<text x="227.19" y="484.9" font-size="6.6" text-anchor="middle">2</text>
<text x="246.6" y="484.9" font-size="6.6" text-anchor="middle">0</text>
<text x="249.4" y="360.9" font-size="5.5" text-anchor="end" textLength="39.5" lengthAdjust="spacingAndGlyphs">Median OS = NE</text>
<text x="249.4" y="367.2" font-size="5.5" text-anchor="end" textLength="55.5" lengthAdjust="spacingAndGlyphs">(range, 0.2-44.1 months)</text>
<circle cx="56.7" cy="427.1" r="1.2" fill="none" stroke="#1c1c28" stroke-width="0.75"/>
<text x="61" y="429.2" font-size="6.0" text-anchor="start" textLength="22" lengthAdjust="spacingAndGlyphs">Censored</text>
<path d="M52.2 359.2H103.3V363.2H117.6V367.5H121.5V372H224" fill="none" stroke="#66a7e0" stroke-width="1.3" stroke-linejoin="miter"/>
<circle cx="61.7" cy="359.2" r="1.2" fill="none" stroke="#1c1c28" stroke-width="0.8"/>
<circle cx="66.5" cy="359.2" r="1.2" fill="none" stroke="#1c1c28" stroke-width="0.8"/>
<circle cx="82.8" cy="359.2" r="1.2" fill="none" stroke="#1c1c28" stroke-width="0.8"/>
<circle cx="83.9" cy="359.2" r="1.2" fill="none" stroke="#1c1c28" stroke-width="0.8"/>
<circle cx="145.1" cy="372" r="1.2" fill="none" stroke="#1c1c28" stroke-width="0.8"/>
<circle cx="146.5" cy="372" r="1.2" fill="none" stroke="#1c1c28" stroke-width="0.8"/>
<circle cx="157.8" cy="372" r="1.2" fill="none" stroke="#1c1c28" stroke-width="0.8"/>
<circle cx="161.3" cy="372" r="1.2" fill="none" stroke="#1c1c28" stroke-width="0.8"/>
<circle cx="163.1" cy="372" r="1.2" fill="none" stroke="#1c1c28" stroke-width="0.8"/>
<circle cx="165" cy="372" r="1.2" fill="none" stroke="#1c1c28" stroke-width="0.8"/>
<circle cx="175.4" cy="372" r="1.2" fill="none" stroke="#1c1c28" stroke-width="0.8"/>
<circle cx="180.2" cy="372" r="1.2" fill="none" stroke="#1c1c28" stroke-width="0.8"/>
<circle cx="182.3" cy="372" r="1.2" fill="none" stroke="#1c1c28" stroke-width="0.8"/>
<circle cx="185.2" cy="372" r="1.2" fill="none" stroke="#1c1c28" stroke-width="0.8"/>
<circle cx="202.3" cy="372" r="1.2" fill="none" stroke="#1c1c28" stroke-width="0.8"/>
<circle cx="215.8" cy="372" r="1.2" fill="none" stroke="#1c1c28" stroke-width="0.8"/>
<circle cx="219.6" cy="372" r="1.2" fill="none" stroke="#1c1c28" stroke-width="0.8"/>
<circle cx="223.9" cy="372" r="1.2" fill="none" stroke="#1c1c28" stroke-width="0.8"/>
</g>
<rect x="0.5" y="0.5" width="519" height="491" fill="none" stroke="#000" stroke-width="1.2"/>
</svg></body></html>
